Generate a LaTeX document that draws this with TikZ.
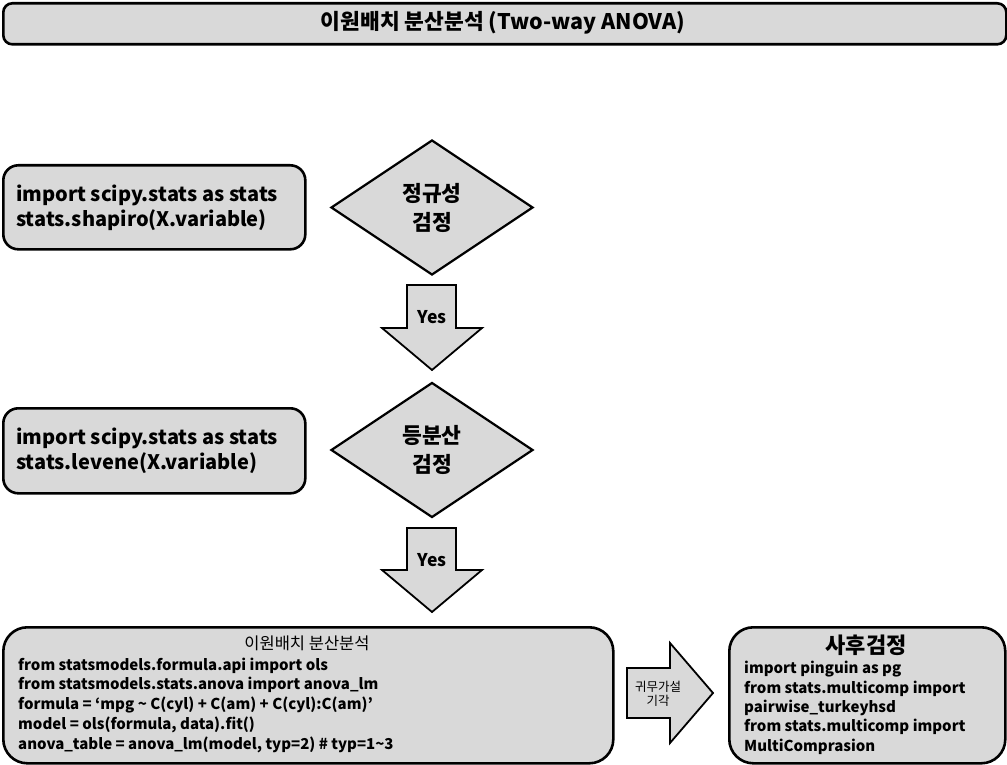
\documentclass[tikz,border=0pt]{standalone}
\usepackage{fontspec}
\setmainfont{Noto Sans CJK KR}
\usetikzlibrary{shapes.geometric}
\definecolor{boxgray}{RGB}{217,217,217}
\begin{document}
\begin{tikzpicture}[x=1pt,y=-1pt,
  box/.style={draw=black, line width=2.6pt, fill=boxgray, inner sep=0pt, anchor=north west},
  blockarrow/.style={draw=black, line width=1.8pt, fill=boxgray, line join=miter},
  decision/.style={diamond, draw=black, line width=2.2pt, fill=boxgray, inner sep=0pt, minimum width=202pt, minimum height=135pt, font=\bfseries\fontsize{21.5}{29}\selectfont, align=center},
  codetxt/.style={font=\bfseries\fontsize{20}{25}\selectfont, align=left, inner sep=0pt},
  smallcode/.style={font=\bfseries\fontsize{15}{19.8}\selectfont, align=left, inner sep=0pt},
  plain/.style={inner sep=0pt, align=center}]
\useasboundingbox (0,0) rectangle (1007,765);

% title
\node[box, rounded corners=9pt, minimum width=1003pt, minimum height=41pt] (title) at (2,2) {};
\node[plain, font=\bfseries\fontsize{21.5}{24}\selectfont] (titletxt) at (503,22.5) {이원배치 분산분석 (Two-way ANOVA)};

% box 1
\node[box, rounded corners=15pt, minimum width=302pt, minimum height=84pt] (b1) at (2,164) {};
\node[codetxt, anchor=west] (b1txt) at (16,208) {import scipy.stats as stats\\stats.shapiro(X.variable)};

% diamond 1
\node[decision] (d1) at (432,207.5) {정규성\\검정};

% yes arrow 1
\draw[blockarrow] (407,285) -- (456,285) -- (456,328) -- (482,328) -- (432,370) -- (382,328) -- (407,328) -- cycle;
\node[plain, font=\bfseries\fontsize{17.5}{20}\selectfont] (yes1) at (432,317) {Yes};

% box 2
\node[box, rounded corners=15pt, minimum width=302pt, minimum height=85pt] (b2) at (2,407) {};
\node[codetxt, anchor=west] (b2txt) at (16,451) {import scipy.stats as stats\\stats.levene(X.variable)};

% diamond 2
\node[decision] (d2) at (432,450) {등분산\\검정};

% yes arrow 2
\draw[blockarrow] (407,528) -- (456,528) -- (456,570) -- (482,570) -- (432,612) -- (382,570) -- (407,570) -- cycle;
\node[plain, font=\bfseries\fontsize{17.5}{20}\selectfont] (yes2) at (432,560) {Yes};

% box 3
\node[box, rounded corners=24pt, minimum width=610pt, minimum height=136pt] (b3) at (2,626) {};
\node[plain, font=\fontsize{16.5}{18}\selectfont] (b3title) at (307,643) {이원배치 분산분석};
\node[smallcode, anchor=north west] (b3txt) at (18,657.5) {from statsmodels.formula.api import ols\\
from statsmodels.stats.anova import anova\_lm\\
formula = ‘mpg \textasciitilde\ C(cyl) + C(am) + C(cyl):C(am)’\\
model = ols(formula, data).fit()\\
anova\_table = anova\_lm(model, typ=2) \# typ=1\textasciitilde 3};

% right arrow
\draw[blockarrow] (627,668) -- (670,668) -- (670,643) -- (713,693) -- (670,743) -- (670,718) -- (627,718) -- cycle;
\node[plain, font=\fontsize{12.5}{13.5}\selectfont] (reject) at (658,694) {귀무가설\\기각};

% box 4
\node[box, rounded corners=24pt, minimum width=276pt, minimum height=136pt] (b4) at (728,626) {};
\node[plain, font=\bfseries\fontsize{22}{24}\selectfont] (b4title) at (866,645) {사후검정};
\node[smallcode, font=\bfseries\fontsize{15}{19.4}\selectfont, anchor=north west] (b4txt) at (744,661) {import pinguin as pg\\
from stats.multicomp import\\
pairwise\_turkeyhsd\\
from stats.multicomp import\\
MultiComprasion};
\end{tikzpicture}
\end{document}
